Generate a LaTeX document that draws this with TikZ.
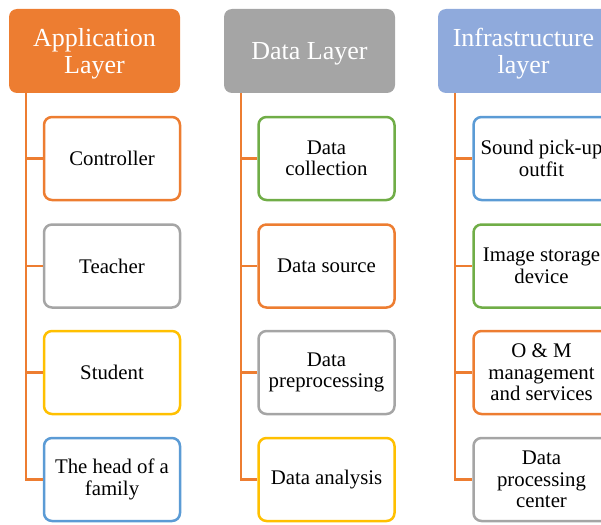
\documentclass[tikz,border=0pt]{standalone}
\usepackage{fontspec}
\setmainfont{Liberation Serif}
\definecolor{cOrange}{HTML}{ED7D31}
\definecolor{cGray}{HTML}{A5A5A5}
\definecolor{cBlueHead}{HTML}{8FAADC}
\definecolor{cBlue}{HTML}{5B9BD5}
\definecolor{cGold}{HTML}{FFC000}
\definecolor{cGreen}{HTML}{70AD47}
\tikzset{
  head/.style 2 args={rounded corners=8pt, minimum width=171pt, minimum height=84pt,
    fill=#1, inner sep=0pt,
    label={[text=white, align=center, inner sep=0pt, yshift=-3pt,
      font=\fontsize{26}{27}\selectfont]center:#2}},
  item/.style={draw=#1, line width=2.5pt, rounded corners=8pt, fill=white,
    minimum width=136pt, minimum height=83pt, align=center, inner sep=0pt,
    font=\fontsize{20.8}{21.5}\selectfont},
  link/.style={draw=cOrange, line width=2.5pt},
}
\begin{document}
\begin{tikzpicture}[x=1pt, y=-1pt]
\useasboundingbox (0,0) rectangle (601,524);
\clip (0,0) rectangle (601,524);

% column headers
\node[head={cOrange}{Application\\Layer}]      (h1) at (94.5,51)  {};
\node[head={cGray}{Data Layer}]                (h2) at (309.5,51) {};
\node[head={cBlueHead}{Infrastructure\\layer}] (h3) at (523.5,51) {};

% application layer items
\node[item=cOrange] (a1) at (112,158.5) {Controller};
\node[item=cGray]   (a2) at (112,266)   {Teacher};
\node[item=cGold]   (a3) at (112,372.5) {Student};
\node[item=cBlue]   (a4) at (112,479.5) {The head of a\\family};

% data layer items
\node[item=cGreen]  (d1) at (326.5,158.5) {Data\\collection};
\node[item=cOrange] (d2) at (326.5,266)   {Data source};
\node[item=cGray]   (d3) at (326.5,372.5) {Data\\preprocessing};
\node[item=cGold]   (d4) at (326.5,479.5) {Data analysis};

% infrastructure layer items
\node[item=cBlue]   (i1) at (541.5,158.5) {Sound pick-up\\outfit};
\node[item=cGreen]  (i2) at (541.5,266)   {Image storage\\device};
\node[item=cOrange] (i3) at (541.5,372.5) {O \& M\\management\\and services};
\node[item=cGray]   (i4) at (541.5,479.5) {Data\\processing\\center};

% tree connectors
\foreach \h/\c in {h1/a,h2/d,h3/i}{
  \foreach \k in {1,2,3,4}{
    \draw[link] ([xshift=17pt]\h.south west) |- (\c\k.west);
  }
}
\end{tikzpicture}
\end{document}
